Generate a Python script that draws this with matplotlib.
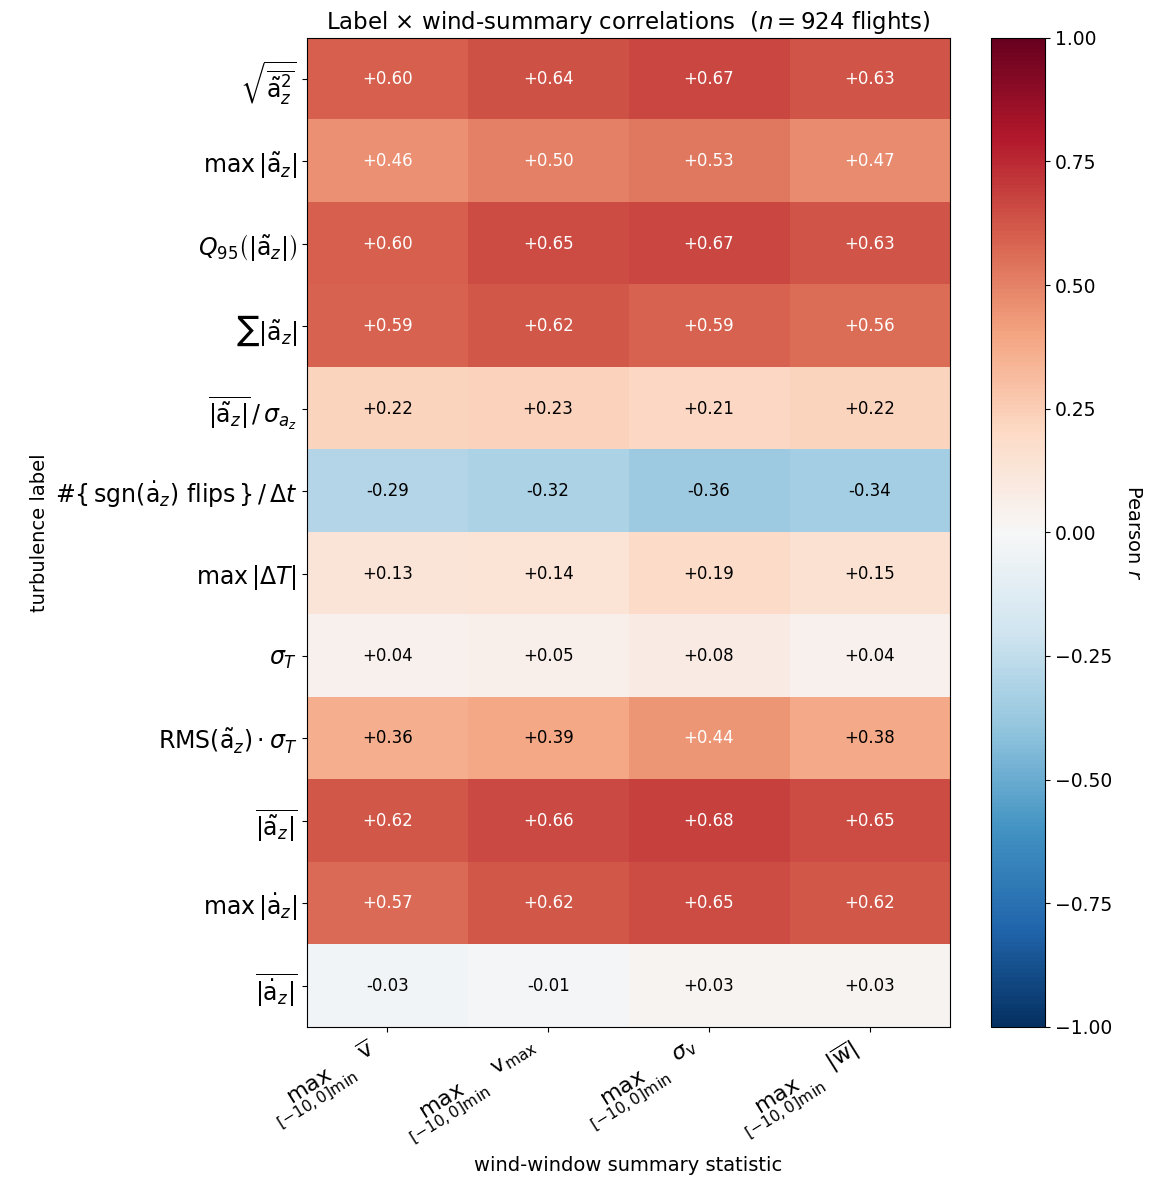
import numpy as np
import matplotlib
matplotlib.use("Agg")
import matplotlib.pyplot as plt

# row labels (turbulence labels)
row_labels = [
    r'$\sqrt{\overline{\tilde{\mathrm{a}}_z^2}}$',
    r'$\max\,|\tilde{\mathrm{a}}_z|$',
    r'$Q_{95}\left(|\tilde{\mathrm{a}}_z|\right)$',
    r'$\sum|\tilde{\mathrm{a}}_z|$',
    r'$\overline{|\tilde{\mathrm{a}}_z|}\,/\,\sigma_{a_z}$',
    r'$\#\{\,\mathrm{sgn}(\dot{\mathrm{a}}_z)\ \mathrm{flips}\,\}\,/\,\Delta t$',
    r'$\max\,|\Delta T|$',
    r'$\sigma_T$',
    r'$\mathrm{RMS}(\tilde{\mathrm{a}}_z)\cdot\sigma_T$',
    r'$\overline{|\tilde{\mathrm{a}}_z|}$',
    r'$\max\,|\dot{\mathrm{a}}_z|$',
    r'$\overline{|\dot{\mathrm{a}}_z|}$',
]

# column labels (wind-window summaries)
col_labels = [
    r'$\max_{[-10,0]\mathrm{min}}\ \ \overline{\mathrm{v}}$',
    r'$\max_{[-10,0]\mathrm{min}}\ \ \mathrm{v}_{\mathrm{max}}$',
    r'$\max_{[-10,0]\mathrm{min}}\ \ \sigma_{\mathrm{v}}$',
    r'$\max_{[-10,0]\mathrm{min}}\ \ |\overline{\mathrm{w}}|$',
]

r_vbar = [0.60, 0.46, 0.60, 0.59, 0.22, -0.29, 0.13, 0.04, 0.36, 0.62, 0.57, -0.03]
r_vmax = [0.64, 0.50, 0.65, 0.62, 0.23, -0.32, 0.14, 0.05, 0.39, 0.66, 0.62, -0.01]
r_sigv = [0.67, 0.53, 0.67, 0.59, 0.21, -0.36, 0.19, 0.08, 0.44, 0.68, 0.65, 0.03]
r_wbar = [0.63, 0.47, 0.63, 0.56, 0.22, -0.34, 0.15, 0.04, 0.38, 0.65, 0.62, 0.03]

n_flights = 924

corr = np.column_stack([r_vbar, r_vmax, r_sigv, r_wbar])

fig = plt.figure(figsize=(11.65, 11.79), dpi=100)
ax = fig.add_axes([0.2635, 0.129, 0.552, 0.839])
cax = fig.add_axes([0.8506, 0.129, 0.0464, 0.839])

im = ax.imshow(corr, cmap='RdBu_r', vmin=-1, vmax=1, aspect='auto')

# annotate cells, white text on the strong ones
for i in range(corr.shape[0]):
    for j in range(corr.shape[1]):
        v = corr[i, j]
        ax.text(j, i, f"{v:+.2f}", ha='center', va='center', fontsize=12,
                color='white' if abs(v) > 0.4 else 'black')

ax.set_xticks(range(len(col_labels)))
ax.set_xticklabels(col_labels, rotation=32, ha='right', fontsize=16)
ax.set_yticks(range(len(row_labels)))
ax.set_yticklabels(row_labels, fontsize=17)
ax.set_xlabel('wind-window summary statistic', fontsize=14, labelpad=6)
ax.set_ylabel('turbulence label', fontsize=14)
ax.set_title(r'Label $\times$ wind-summary correlations  ($n = %d$ flights)' % n_flights,
             fontsize=16.5)

cb = fig.colorbar(im, cax=cax, ticks=[-1, -0.75, -0.5, -0.25, 0, 0.25, 0.5, 0.75, 1])
cb.ax.tick_params(labelsize=13.5)
cb.ax.set_yticklabels([f"{t:.2f}".replace('-', '\u2212') for t in cb.get_ticks()])
cb.set_label('Pearson $r$', rotation=270, labelpad=22, fontsize=14)

fig.savefig('out.png', dpi=100)
